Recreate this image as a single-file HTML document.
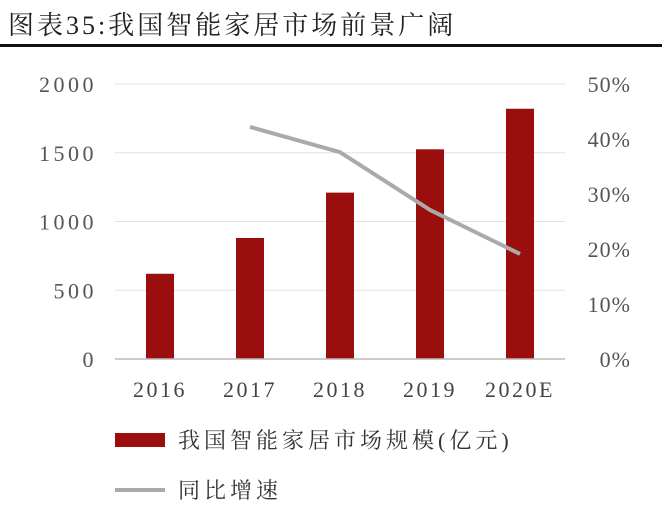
<!DOCTYPE html>
<html><head><meta charset="utf-8"><style>
body{margin:0;background:#fff;width:662px;height:505px;overflow:hidden;font-family:"Liberation Serif","Noto Serif CJK SC",serif;}
</style></head><body>
<svg width="662" height="505">
<text x="8" y="34" font-size="26" letter-spacing="3" fill="#222" font-family="Liberation Serif, Noto Serif CJK SC, serif">图表35:我国智能家居市场前景广阔</text>
<rect x="0" y="44" width="662" height="3" fill="#111"/>
<g id="grid"></g><g id="bars"></g><g id="line"></g><g id="axes"></g>
<rect x="115" y="433" width="50" height="14" fill="#9b0e0e"/>
<text x="178" y="448" font-size="22" letter-spacing="4" fill="#333">我国智能家居市场规模(亿元)</text>
<line x1="115" y1="490" x2="165" y2="490" stroke="#aaa" stroke-width="4"/>
<text x="178" y="498" font-size="22" letter-spacing="4" fill="#333">同比增速</text>
</svg>
<script>
const categories=["2016","2017","2018","2019","2020E"];
const marketSize=[620,880,1210,1525,1820];
const growth=[null,42.2,37.6,27.1,19.1];
const leftTicks=[0,500,1000,1500,2000];
const rightTicks=[0,10,20,30,40,50];
const NS="http://www.w3.org/2000/svg";
const y0=359,y1=84,x0=115,x1=565;
const yL=v=>y0-(v/2000)*(y0-y1);
const yR=v=>y0-(v/50)*(y0-y1);
const xC=i=>x0+(i+0.5)*(x1-x0)/categories.length;
function mk(t,a,p){const e=document.createElementNS(NS,t);for(const k in a)e.setAttribute(k,a[k]);p.appendChild(e);return e;}
const grid=document.getElementById('grid'),bars=document.getElementById('bars'),line=document.getElementById('line'),axes=document.getElementById('axes');
leftTicks.forEach(v=>{
 if(v>0){const g=mk('line',{x1:x0,x2:x1,y1:yL(v),y2:yL(v),stroke:'#e2e2e2','stroke-width':1},grid);
 
 }
 const t=mk('text',{x:97,y:yL(v)+8,'text-anchor':'end','font-size':22,'letter-spacing':3.5,fill:'#555'},axes);t.textContent=v;
 
 
});
rightTicks.forEach(v=>{
 const t=mk('text',{x:631,y:yR(v)+8,'text-anchor':'end','font-size':22,'letter-spacing':1,fill:'#555'},axes);t.textContent=v+'%';
 
 
});
const ax=mk('line',{x1:x0,x2:x1,y1:y0,y2:y0,stroke:'#bbb','stroke-width':1.5},axes);


categories.forEach((c,i)=>{
 const b=mk('rect',{x:xC(i)-14,y:yL(marketSize[i]),width:28,height:y0-yL(marketSize[i]),fill:'#9b0e0e'},bars);
 
 
 const t=mk('text',{x:xC(i),y:397,'text-anchor':'middle','font-size':22,'letter-spacing':2.5,fill:'#444'},axes);t.textContent=c;
 
 
});
const pts=growth.map((g,i)=>g==null?null:xC(i)+','+yR(g)).filter(p=>p);
const pl=mk('polyline',{points:pts.join(' '),fill:'none',stroke:'#aaa','stroke-width':4,'stroke-linejoin':'round'},line);


</script>
</body></html>
